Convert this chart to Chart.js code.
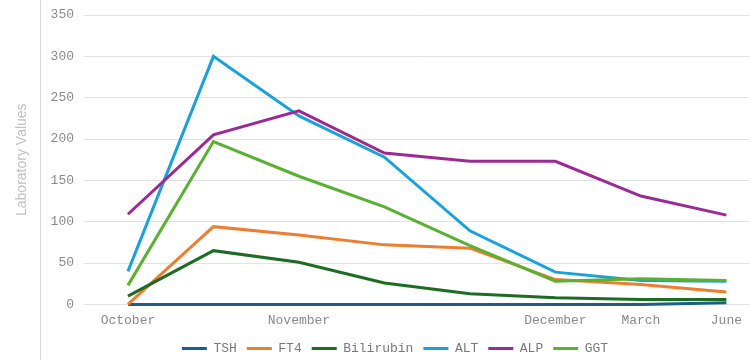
<!DOCTYPE html>
<html lang="en">
<head>
<meta charset="UTF-8">
<title>Laboratory Values</title>
<script src="https://cdn.jsdelivr.net/npm/chart.js"></script>
<style>
    html, body { margin: 0; padding: 0; background: #fff; }
    .chart-box { position: relative; width: 750px; height: 360px; }
</style>
</head>
<body>
<div class="chart-box"><canvas id="labChart"></canvas></div>
<script>
// x positions are visit indices; only some carry a month label
const months = ['October', '', 'November', '', '', 'December', 'March', 'June'];

const tsh       = [0, 0, 0, 0, 0, 0, 0, 2];
const ft4       = [0, 94, 84, 72, 68, 30, 24, 15];
const bilirubin = [10, 65, 51, 26, 13, 8, 6, 6];
const alt       = [40, 300, 228, 178, 89, 39, 29, 28];
const alp       = [109, 205, 234, 183, 173, 173, 131, 108];
const ggt       = [23, 197, 155, 118, 71, 28, 31, 29];

const yTicks = [0, 50, 100, 150, 200, 250, 300, 350];

const monoFont = { family: "'Liberation Mono', 'Courier New', monospace", size: 13 };
const tickGray = '#8a8a8a';

const series = [
    { label: 'TSH', data: tsh, color: '#1f5d87' },
    { label: 'FT4', data: ft4, color: '#ed7d31' },
    { label: 'Bilirubin', data: bilirubin, color: '#1e6b24' },
    { label: 'ALT', data: alt, color: '#1ba1d9' },
    { label: 'ALP', data: alp, color: '#9a2b95' },
    { label: 'GGT', data: ggt, color: '#5bb034' }
];

const labelIdx = months.map((m, i) => m ? i : -1).filter(i => i >= 0);

// light rule on the left + rotated axis title
const sideDecor = {
    id: 'sideDecor',
    beforeDraw(chart) {
        const c = chart.ctx;
        const area = chart.chartArea;
        c.save();
        c.strokeStyle = '#d9d9d9';
        c.lineWidth = 1;
        c.beginPath();
        c.moveTo(40.5, 0);
        c.lineTo(40.5, chart.height);
        c.stroke();
        c.translate(22, (area.top + area.bottom) / 2);
        c.rotate(-Math.PI / 2);
        c.fillStyle = '#c0c0c0';
        c.font = "14px 'Liberation Sans', Arial, sans-serif";
        c.textAlign = 'center';
        c.textBaseline = 'middle';
        c.fillText('Laboratory Values', 0, 0);
        c.restore();
    }
};

new Chart(document.getElementById('labChart'), {
    type: 'line',
    data: {
        datasets: series.map((s, i) => ({
            label: s.label,
            data: s.data.map((v, j) => ({ x: j, y: v })),
            borderColor: s.color,
            backgroundColor: s.color,
            borderWidth: 3,
            pointRadius: 0,
            tension: 0,
            fill: false,
            clip: false,
            order: series.length - i
        }))
    },
    options: {
        responsive: true,
        maintainAspectRatio: false,
        animation: false,
        layout: { padding: { left: 40, top: 15, right: 0, bottom: -5 } },
        scales: {
            x: {
                type: 'linear',
                min: -0.514,
                max: 7.27,
                afterBuildTicks: (s) => { s.ticks = labelIdx.map(v => ({ value: v })); },
                afterFit: (s) => { s.height -= 4; },
                ticks: {
                    callback: (v) => months[v] || '',
                    font: monoFont,
                    color: tickGray,
                    padding: 8,
                    maxRotation: 0,
                    autoSkip: false
                },
                grid: { display: false, drawTicks: false },
                border: { display: false }
            },
            y: {
                min: 0,
                max: 350,
                afterBuildTicks: (s) => { s.ticks = yTicks.map(v => ({ value: v })); },
                afterFit: (s) => { s.width = 44; s.paddingTop = 0; },
                ticks: { font: monoFont, color: tickGray, padding: 10 },
                grid: { color: '#e2e2e2', lineWidth: 1, drawTicks: false },
                border: { display: false }
            }
        },
        plugins: {
            legend: {
                position: 'bottom',
                reverse: true,
                labels: {
                    font: monoFont,
                    color: '#7a7a7a',
                    boxWidth: 25,
                    boxHeight: 3,
                    padding: 10,
                    generateLabels: (chart) => Chart.defaults.plugins.legend.labels.generateLabels(chart)
                        .map(it => Object.assign(it, { lineWidth: 0, fillStyle: it.strokeStyle }))
                }
            },
            tooltip: { enabled: false }
        }
    },
    plugins: [sideDecor]
});
</script>
</body>
</html>
